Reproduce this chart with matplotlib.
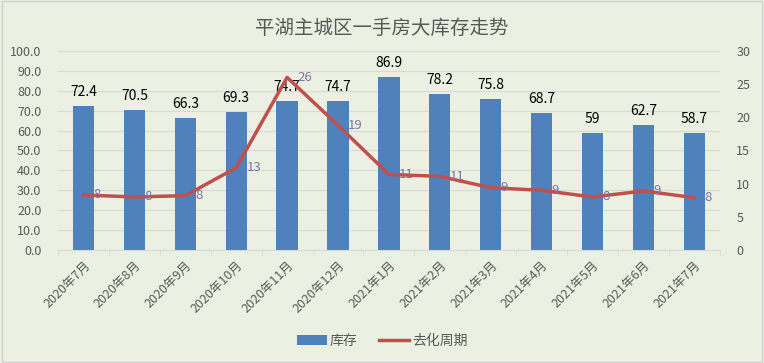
import matplotlib
matplotlib.use("Agg")
import matplotlib.pyplot as plt
import numpy as np

plt.rcParams['font.family'] = ['Noto Sans CJK SC', 'DejaVu Sans']

categories = ["2020年7月", "2020年8月", "2020年9月", "2020年10月", "2020年11月", "2020年12月",
              "2021年1月", "2021年2月", "2021年3月", "2021年4月", "2021年5月", "2021年6月", "2021年7月"]
inventory = [72.4, 70.5, 66.3, 69.3, 74.7, 74.7, 86.9, 78.2, 75.8, 68.7, 59, 62.7, 58.7]
inventory_labels = ["72.4", "70.5", "66.3", "69.3", "74.7", "74.7", "86.9", "78.2", "75.8", "68.7", "59", "62.7", "58.7"]
cycle = [8.3, 8.0, 8.2, 12.4, 26.0, 18.8, 11.4, 11.1, 9.4, 9.0, 8.0, 8.9, 7.9]
cycle_labels = ["8", "8", "8", "13", "26", "19", "11", "11", "9", "9", "8", "9", "8"]

bg = '#ECF0E2'
bar_color = '#4F81BD'
line_color = '#C0504D'
txt = '#595959'

fig = plt.figure(figsize=(7.64, 3.63), dpi=100, facecolor=bg)
ax = fig.add_axes([0.076, 0.311, 0.866, 0.549])
ax.set_facecolor(bg)
x = np.arange(len(categories))
ax.bar(x, inventory, width=0.42, color=bar_color, label='库存', zorder=2)
for xi, v, lab in zip(x, inventory, inventory_labels):
    ax.text(xi, v + 3.5, lab, ha='center', va='bottom', fontsize=10, color='black', zorder=4)
ax.set_ylim(0, 100)
ax.set_xlim(-0.5, len(categories) - 0.5)
ax.set_yticks(np.arange(0, 101, 10))
ax.set_yticklabels([f"{v:.1f}" for v in np.arange(0, 101, 10)])
ax.grid(axis='y', color='#D9D9D9', linewidth=0.8, zorder=0)
ax.set_xticks(x)
ax.set_xticklabels(categories, rotation=45, ha='right', rotation_mode='anchor', fontsize=9, color=txt)
ax.set_xticks(np.arange(-0.5, len(categories), 1), minor=True)
ax.tick_params(axis='x', which='major', length=0, pad=6)
ax.tick_params(axis='x', which='minor', length=4, color='#D9D9D9')
ax.tick_params(axis='y', length=0, labelsize=9, labelcolor=txt, pad=12)
for s in ['top', 'right', 'left']:
    ax.spines[s].set_visible(False)
ax.spines['bottom'].set_color('#D9D9D9')

ax2 = ax.twinx()
ax2.plot(x, cycle, color=line_color, linewidth=2.5, label='去化周期', zorder=3)
for xi, v, lab in zip(x, cycle, cycle_labels):
    ax2.text(xi + 0.2, v, lab, ha='left', va='center', fontsize=9.5, color='#7F72A6', zorder=5)
ax2.set_ylim(0, 30)
ax2.set_yticks(np.arange(0, 31, 5))
ax2.tick_params(axis='y', length=0, labelsize=9, labelcolor=txt, pad=12)
for s in ax2.spines.values():
    s.set_visible(False)

fig.suptitle('平湖主城区一手房大库存走势', x=0.5, y=0.95, fontsize=14, color=txt, fontweight='light')

h1, l1 = ax.get_legend_handles_labels()
h2, l2 = ax2.get_legend_handles_labels()
fig.legend(h1 + h2, l1 + l2, loc='center', bbox_to_anchor=(0.5, 0.06), ncol=2, frameon=False,
           fontsize=10, labelcolor=txt, handlelength=2.2, handletextpad=0.2, columnspacing=1.5)

border = plt.Rectangle((0.002, 0.003), 0.996, 0.994, transform=fig.transFigure, fill=False,
                       edgecolor='#D0D0D0', linewidth=1)
fig.add_artist(border)

fig.savefig('out.png', dpi=100, facecolor=bg)
